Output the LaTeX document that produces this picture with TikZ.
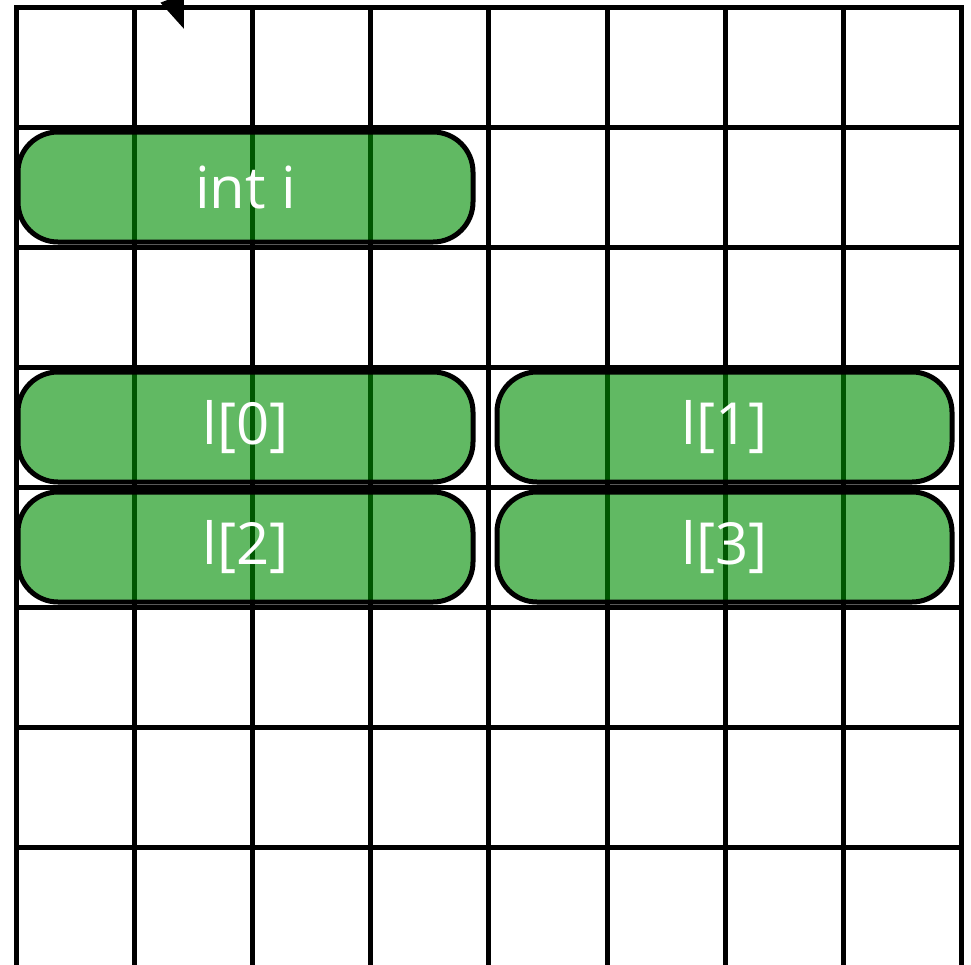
\documentclass[tikz,border=0pt]{standalone}
\usepackage{fontspec}
\setmainfont{Open Sans}
\usetikzlibrary{arrows.meta,positioning}
\definecolor{memgreen}{RGB}{0,142,3}

\begin{document}
\begin{tikzpicture}[
  x=0.5pt, y=-0.5pt,
  gridline/.style={line width=2.5pt, line cap=rect},
  cell/.style={draw, line width=2.5pt, rounded corners=20pt, fill=memgreen,
               fill opacity=0.62, text opacity=1, text=white, outer sep=0pt,
               minimum width=227.5pt, minimum height=55pt,
               font=\fontsize{29}{34}\selectfont},
  >={Triangle[length=16.5pt, width=12pt]}, node distance=5pt and 12pt
]
\useasboundingbox (0,0) rectangle (971,965);
\clip (0,0) rectangle (971,965);
% memory grid
\foreach \k in {0,...,8}
  \draw[gridline] (16.5+118.1*\k,7.5) -- (16.5+118.1*\k,990);
\foreach \k in {0,...,7}
  \draw[gridline] (16.5,7.5+120*\k) -- (961.3,7.5+120*\k);
% variables
\node[cell] (inti) at (245.5,187) {int i};
\node[cell] (l0) at (245.5,427) {l[0]};
\node[cell, right=of l0] (l1) {l[1]};
\node[cell, below=of l0] (l2) {l[2]};
\node[cell, right=of l2] (l3) {l[3]};
% pointer
\coordinate (ptr) at (150,-60);
\coordinate (ptrtip) at (184,29);
\draw[->, line width=2pt] (ptr) -- (ptrtip);
\end{tikzpicture}
\end{document}
